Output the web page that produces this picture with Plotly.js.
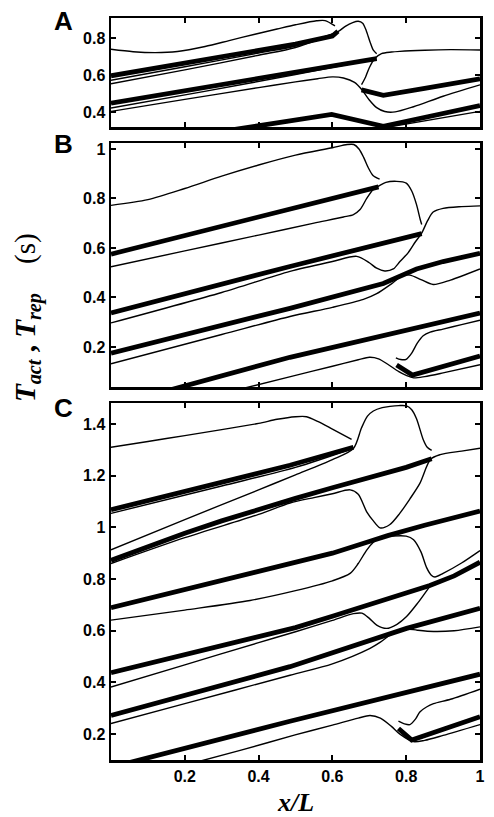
<!DOCTYPE html>
<html><head><meta charset="utf-8">
<script src="https://cdn.plot.ly/plotly-3.0.1.min.js"></script>
<style>html,body{margin:0;padding:0;background:#fff}#plot{width:494px;height:817px}</style>
</head><body><div id="plot"></div>
<script>
// ---------- tick labels ----------
const xTicks = [0.2, 0.4, 0.6, 0.8, 1];
const xTickText = ['0.2', '0.4', '0.6', '0.8', '1'];
const aTicks = [0.4, 0.6, 0.8];
const aTickText = ['0.4', '0.6', '0.8'];
const bTicks = [0.2, 0.4, 0.6, 0.8, 1];
const bTickText = ['0.2', '0.4', '0.6', '0.8', '1'];
const cTicks = [0.2, 0.4, 0.6, 0.8, 1, 1.2, 1.4];
const cTickText = ['0.2', '0.4', '0.6', '0.8', '1', '1.2', '1.4'];
const panelLabels = ['A', 'B', 'C'];

// ---------- panel A ----------
const aThinTopX = [0, 0.06, 0.12, 0.18, 0.255, 0.32, 0.39, 0.45, 0.5, 0.557, 0.58, 0.607];
const aThinTopY = [0.74, 0.727, 0.722, 0.728, 0.755, 0.787, 0.822, 0.85, 0.873, 0.895, 0.896, 0.867];
const aThick1X = [0, 0.2, 0.4, 0.5, 0.6, 0.615];
const aThick1Y = [0.596, 0.664, 0.733, 0.768, 0.812, 0.838];
const aThin1aX = [0, 0.2, 0.4, 0.5, 0.615];
const aThin1aY = [0.572, 0.645, 0.72, 0.758, 0.835];
const aThin1bX = [0, 0.2, 0.4, 0.5, 0.615, 0.635, 0.655, 0.67, 0.682, 0.692, 0.702, 0.711, 0.72];
const aThin1bY = [0.553, 0.628, 0.708, 0.75, 0.836, 0.865, 0.885, 0.892, 0.882, 0.84, 0.78, 0.735, 0.716];
const aThick2X = [0, 0.2, 0.4, 0.5, 0.6, 0.72];
const aThick2Y = [0.447, 0.515, 0.582, 0.614, 0.648, 0.69];
const aThin2aX = [0, 0.25, 0.5, 0.72];
const aThin2aY = [0.421, 0.51, 0.603, 0.688];
const aThin2bX = [0, 0.2, 0.4, 0.5, 0.56, 0.6, 0.63, 0.66, 0.68, 0.7, 0.72, 0.742, 0.77, 0.82, 0.9, 1];
const aThin2bY = [0.403, 0.468, 0.532, 0.563, 0.58, 0.59, 0.584, 0.56, 0.52, 0.465, 0.423, 0.402, 0.4, 0.428, 0.485, 0.547];
const aThin3X = [0.679, 0.69, 0.70, 0.715, 0.733, 0.76, 0.783, 0.85, 0.92, 1];
const aThin3Y = [0.548, 0.59, 0.64, 0.69, 0.716, 0.725, 0.729, 0.735, 0.738, 0.736];
const aThick4X = [0.679, 0.738, 0.85, 1];
const aThick4Y = [0.52, 0.49, 0.528, 0.58];
const aThick3X = [0.3, 0.598, 0.738, 1];
const aThick3Y = [0.294, 0.386, 0.322, 0.434];
const aThin4X = [0.72, 0.75, 1];
const aThin4Y = [0.305, 0.317, 0.403];

// ---------- panel B ----------
const bThin1X = [0, 0.1, 0.2, 0.3, 0.4, 0.5, 0.6, 0.64, 0.658, 0.672, 0.685, 0.697, 0.71, 0.728];
const bThin1Y = [0.772, 0.795, 0.84, 0.89, 0.935, 0.975, 1.005, 1.018, 1.018, 1.0, 0.965, 0.925, 0.893, 0.878];
const bThick1X = [0, 0.485, 0.725];
const bThick1Y = [0.575, 0.757, 0.847];
const bThin2X = [0, 0.2, 0.4, 0.55, 0.63, 0.657, 0.675, 0.693, 0.71, 0.725, 0.745, 0.774, 0.8, 0.815, 0.828, 0.838, 0.842];
const bThin2Y = [0.524, 0.588, 0.652, 0.7, 0.725, 0.735, 0.755, 0.8, 0.835, 0.85, 0.865, 0.869, 0.862, 0.83, 0.775, 0.715, 0.695];
const bThick2X = [0, 0.485, 0.842];
const bThick2Y = [0.337, 0.525, 0.658];
const bThin3X = [0, 0.3, 0.485, 0.6, 0.666, 0.7, 0.72, 0.742, 0.765, 0.783, 0.805, 0.825, 0.842, 0.858, 0.873, 0.9, 0.95, 1];
const bThin3Y = [0.297, 0.42, 0.505, 0.545, 0.566, 0.54, 0.518, 0.507, 0.515, 0.545, 0.58, 0.625, 0.66, 0.71, 0.745, 0.76, 0.767, 0.77];
const bThick3X = [0, 0.485, 0.738, 0.78, 0.828, 0.9, 1];
const bThick3Y = [0.175, 0.356, 0.456, 0.483, 0.515, 0.545, 0.578];
const bThin4X = [0, 0.3, 0.485, 0.6, 0.684, 0.72, 0.76, 0.79, 0.81, 0.84, 0.873, 0.92, 1];
const bThin4Y = [0.132, 0.25, 0.323, 0.36, 0.392, 0.415, 0.455, 0.488, 0.49, 0.472, 0.452, 0.47, 0.515];
const bThick4X = [0.15, 0.485, 1];
const bThick4Y = [0.022, 0.158, 0.337];
const bThin5X = [0.33, 0.5, 0.6, 0.67, 0.70, 0.725, 0.75, 0.78, 0.80, 0.82, 0.85, 0.9, 1];
const bThin5Y = [0.022, 0.085, 0.122, 0.148, 0.158, 0.152, 0.13, 0.1, 0.085, 0.075, 0.08, 0.095, 0.128];
const bHookX = [0.772, 0.785, 0.80, 0.815, 0.83, 0.846, 0.865, 0.9, 0.95, 1];
const bHookY = [0.156, 0.149, 0.15, 0.175, 0.215, 0.245, 0.26, 0.272, 0.29, 0.308];
const bThick5X = [0.774, 0.817, 1];
const bThick5Y = [0.127, 0.086, 0.163];

// ---------- panel C ----------
const cThin1X = [0, 0.1, 0.2, 0.3, 0.4, 0.45, 0.5, 0.53, 0.56, 0.6, 0.652];
const cThin1Y = [1.31, 1.332, 1.355, 1.378, 1.402, 1.418, 1.428, 1.428, 1.41, 1.38, 1.34];
const cThick1X = [0, 0.485, 0.657];
const cThick1Y = [1.068, 1.24, 1.31];
const cThin2X = [0, 0.3, 0.5, 0.657];
const cThin2Y = [1.054, 1.16, 1.232, 1.306];
const cThin3X = [0, 0.2, 0.4, 0.5, 0.6, 0.657, 0.679, 0.695, 0.711, 0.735, 0.756, 0.78, 0.801, 0.815, 0.828, 0.846, 0.857, 0.869];
const cThin3Y = [0.913, 1.03, 1.145, 1.203, 1.262, 1.305, 1.385, 1.43, 1.45, 1.463, 1.468, 1.471, 1.47, 1.455, 1.42, 1.34, 1.31, 1.298];
const cThick2X = [0, 0.1, 0.2, 0.3, 0.4, 0.5, 0.6, 0.7, 0.8, 0.869];
const cThick2Y = [0.872, 0.926, 0.977, 1.025, 1.07, 1.112, 1.153, 1.193, 1.232, 1.265];
const cThin4aX = [0, 0.2, 0.4, 0.485, 0.55, 0.6, 0.648, 0.67, 0.693, 0.711, 0.729, 0.755, 0.783, 0.81, 0.837, 0.866, 0.892, 0.95, 1];
const cThin4aY = [0.86, 0.96, 1.05, 1.094, 1.115, 1.13, 1.145, 1.128, 1.06, 1.025, 0.998, 1.01, 1.055, 1.11, 1.17, 1.263, 1.281, 1.295, 1.306];
const cThick3X = [0, 0.2, 0.4, 0.5, 0.6, 0.7, 0.75, 0.85, 1];
const cThick3Y = [0.689, 0.76, 0.83, 0.862, 0.9, 0.945, 0.968, 1.008, 1.063];
const cThin4X = [0, 0.2, 0.377, 0.5, 0.6, 0.648, 0.67, 0.693, 0.711, 0.729, 0.76, 0.8, 0.82, 0.84, 0.855, 0.868, 0.878, 0.9, 0.95, 1];
const cThin4Y = [0.641, 0.68, 0.717, 0.755, 0.793, 0.822, 0.86, 0.912, 0.942, 0.96, 0.966, 0.966, 0.952, 0.905, 0.845, 0.815, 0.808, 0.822, 0.862, 0.91];
const cThick4X = [0, 0.2, 0.4, 0.5, 0.6, 0.75, 0.8, 0.864, 0.93, 1];
const cThick4Y = [0.438, 0.508, 0.578, 0.612, 0.656, 0.724, 0.748, 0.775, 0.812, 0.865];
const cThin5X = [0, 0.2, 0.4, 0.5, 0.6, 0.657, 0.68, 0.70, 0.72, 0.747, 0.775, 0.801, 0.83, 0.864];
const cThin5Y = [0.382, 0.468, 0.554, 0.596, 0.64, 0.666, 0.668, 0.648, 0.622, 0.609, 0.625, 0.655, 0.705, 0.772];
const cThick5X = [0, 0.485, 0.801, 1];
const cThick5Y = [0.272, 0.461, 0.609, 0.687];
const cThin6X = [0, 0.2, 0.485, 0.6, 0.702, 0.73, 0.756, 0.78, 0.801, 0.83, 0.874, 0.93, 1];
const cThin6Y = [0.241, 0.318, 0.428, 0.472, 0.532, 0.556, 0.583, 0.6, 0.607, 0.602, 0.597, 0.6, 0.615];
const cThick6X = [0.02, 0.485, 1];
const cThick6Y = [0.079, 0.25, 0.432];
const cThin7X = [0.2, 0.35, 0.499, 0.6, 0.67, 0.702, 0.73, 0.76, 0.783, 0.819, 0.85, 0.9, 1];
const cThin7Y = [0.08, 0.137, 0.197, 0.235, 0.262, 0.272, 0.262, 0.23, 0.2, 0.171, 0.176, 0.195, 0.237];
const cHookX = [0.779, 0.795, 0.81, 0.825, 0.837, 0.855, 0.874, 0.92, 1];
const cHookY = [0.25, 0.24, 0.237, 0.258, 0.286, 0.305, 0.318, 0.335, 0.374];
const cThick7X = [0.779, 0.815, 1];
const cThick7Y = [0.222, 0.177, 0.267];

// ---------- build traces ----------
const THICK = 4.8, THIN = 1.4;
const traces = [];
function add(x, y, thick, ax) {
  traces.push({
    type: 'scatter', mode: 'lines', x: x, y: y,
    xaxis: 'x' + (ax === 1 ? '' : ax), yaxis: 'y' + (ax === 1 ? '' : ax),
    line: {color: '#000', width: thick ? THICK : THIN, shape: thick ? 'linear' : 'spline', smoothing: 0.8},
    hoverinfo: 'skip', showlegend: false
  });
}
// A
add(aThick1X, aThick1Y, true, 1); add(aThick2X, aThick2Y, true, 1);
add(aThick3X, aThick3Y, true, 1); add(aThick4X, aThick4Y, true, 1);
add(aThinTopX, aThinTopY, false, 1); add(aThin1aX, aThin1aY, false, 1);
add(aThin1bX, aThin1bY, false, 1); add(aThin2aX, aThin2aY, false, 1);
add(aThin2bX, aThin2bY, false, 1); add(aThin3X, aThin3Y, false, 1);
add(aThin4X, aThin4Y, false, 1);
// B
add(bThick1X, bThick1Y, true, 2); add(bThick2X, bThick2Y, true, 2);
add(bThick3X, bThick3Y, true, 2); add(bThick4X, bThick4Y, true, 2);
add(bThick5X, bThick5Y, true, 2);
add(bThin1X, bThin1Y, false, 2); add(bThin2X, bThin2Y, false, 2);
add(bThin3X, bThin3Y, false, 2); add(bThin4X, bThin4Y, false, 2);
add(bThin5X, bThin5Y, false, 2); add(bHookX, bHookY, false, 2);
// C
add(cThick1X, cThick1Y, true, 3); add(cThick2X, cThick2Y, true, 3);
add(cThick3X, cThick3Y, true, 3); add(cThick4X, cThick4Y, true, 3);
add(cThick5X, cThick5Y, true, 3); add(cThick6X, cThick6Y, true, 3);
add(cThick7X, cThick7Y, true, 3);
add(cThin1X, cThin1Y, false, 3); add(cThin2X, cThin2Y, false, 3);
add(cThin3X, cThin3Y, false, 3); add(cThin4aX, cThin4aY, false, 3);
add(cThin4X, cThin4Y, false, 3); add(cThin5X, cThin5Y, false, 3);
add(cThin6X, cThin6Y, false, 3); add(cThin7X, cThin7Y, false, 3);
add(cHookX, cHookY, false, 3);

// ---------- layout ----------
const W = 494, H = 817;
const fx = p => p / W, fy = p => 1 - p / H;
const tickFont = {family: 'Liberation Sans, Arial, sans-serif', size: 16, color: '#000', weight: 'bold'};
function xa(anchor, labels) {
  return {domain: [fx(111), fx(480)], range: [0, 1], anchor: anchor,
    tickmode: 'array', tickvals: xTicks, ticktext: xTickText, showticklabels: labels,
    ticks: 'inside', ticklen: 5, tickwidth: 2, tickcolor: '#000', mirror: 'ticks',
    showline: true, linewidth: 2.5, linecolor: '#000', showgrid: false, zeroline: false,
    tickfont: tickFont, fixedrange: true};
}
function ya(anchor, top, bot, range, tv, tt) {
  return {domain: [fy(bot), fy(top)], range: range, anchor: anchor,
    tickmode: 'array', tickvals: tv, ticktext: tt,
    ticks: 'inside', ticklen: 5, tickwidth: 2, tickcolor: '#000', mirror: 'ticks',
    showline: true, linewidth: 2.5, linecolor: '#000', showgrid: false, zeroline: false,
    tickfont: tickFont, fixedrange: true};
}
const labFont = {family: 'Liberation Sans, Arial, sans-serif', size: 26, color: '#000', weight: 'bold'};
const serif = 'Liberation Serif, Times New Roman, serif';
const layout = {
  width: W, height: H, margin: {l: 0, r: 0, t: 0, b: 0},
  paper_bgcolor: '#fff', plot_bgcolor: '#fff', showlegend: false,
  xaxis: xa('y', false), xaxis2: xa('y2', false), xaxis3: xa('y3', true),
  yaxis: ya('x', 18, 127, [0.318, 0.91], aTicks, aTickText),
  yaxis2: ya('x2', 143, 387, [0.038, 1.024], bTicks, bTickText),
  yaxis3: ya('x3', 403, 760, [0.1, 1.481], cTicks, cTickText),
  annotations: [
    {text: '<b>' + panelLabels[0] + '</b>', x: fx(63), y: fy(21), xref: 'paper', yref: 'paper', showarrow: false, font: labFont, xanchor: 'center', yanchor: 'middle'},
    {text: '<b>' + panelLabels[1] + '</b>', x: fx(63), y: fy(144), xref: 'paper', yref: 'paper', showarrow: false, font: labFont, xanchor: 'center', yanchor: 'middle'},
    {text: '<b>' + panelLabels[2] + '</b>', x: fx(63), y: fy(408), xref: 'paper', yref: 'paper', showarrow: false, font: labFont, xanchor: 'center', yanchor: 'middle'},
    {text: '<b><i>x/L</i></b>', x: fx(295), y: fy(802), xref: 'paper', yref: 'paper', showarrow: false,
      font: {family: serif, size: 26, color: '#000'}, xanchor: 'center', yanchor: 'middle'},
    {text: '<b><i>T</i></b><sub><b><i>act</i></b></sub>\u00a0<b>,</b>\u00a0<b><i>T</i></b><sub><b><i>rep</i></b></sub>\u00a0\u00a0\u00a0\u00a0(s)',
      x: fx(28), y: fy(318), xref: 'paper', yref: 'paper', showarrow: false, textangle: -90,
      font: {family: serif, size: 29, color: '#000'}, xanchor: 'center', yanchor: 'middle'}
  ]
};
Plotly.newPlot('plot', traces, layout, {staticPlot: true, displayModeBar: false});
</script></body></html>
